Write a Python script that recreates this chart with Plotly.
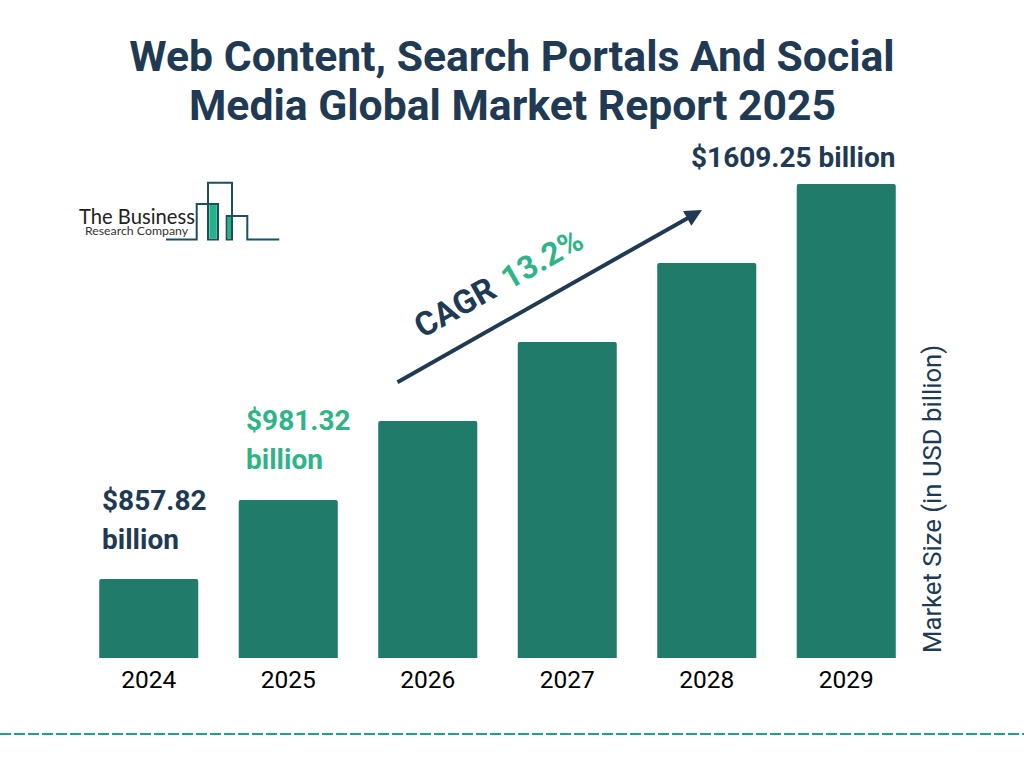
import plotly.graph_objects as go

# Data
years = ["2024", "2025", "2026", "2027", "2028", "2029"]
bar_heights = [79, 158, 237, 316, 395, 474]  # drawn heights (equal steps)
title_line1 = "Web Content, Search Portals And Social"
title_line2 = "Media Global Market Report 2025"
axis_title = "Market Size (in USD billion)"

NAVY = "#213A53"
TEAL = "#217B6B"
GREEN = "#2FB487"
FONT = "Roboto"

W, H = 1024, 768
L, R, T, B = 79, 108, 150, 110
PW, PH = W - L - R, H - T - B

def px(x):
    return (x - L) / PW

def py(y):
    return 1 - (y - T) / PH

fig = go.Figure(go.Bar(
    x=years, y=bar_heights, width=0.71,
    marker=dict(color=TEAL, line=dict(width=0), cornerradius=2),
    hoverinfo="x+y",
))

def note(text, x, y, size, color, bold=True, xanchor="center", angle=0, family=FONT):
    fig.add_annotation(
        text=f"<b>{text}</b>" if bold else text,
        xref="paper", yref="paper", x=px(x), y=py(y),
        xanchor=xanchor, yanchor="middle", showarrow=False, textangle=angle,
        font=dict(family=family, size=size, color=color),
    )

note(title_line2, 512, 105, 42.7, NAVY)
note("$857.82", 99.5, 500, 28, NAVY, xanchor="left")
note("billion", 99.5, 539, 28, NAVY, xanchor="left")
note("$981.32", 243.5, 420, 28, GREEN, xanchor="left")
note("billion", 243.5, 459, 28, GREEN, xanchor="left")
note("$1609.25 billion", 688.5, 157.5, 28, NAVY, xanchor="left")
note("CAGR", 454, 307, 33, NAVY, angle=-29.4)
note("13.2%", 542, 259, 32, GREEN, angle=-29.4)
note(axis_title, 932, 499, 25.7, NAVY, bold=False, angle=-90)
note("The Business", 136.5, 215.5, 20.2, "#222222", bold=False, family="Lato")
note("Research Company", 136.5, 230.5, 12.3, "#333333", bold=False, family="Lato")

# CAGR arrow
fig.add_annotation(
    xref="paper", yref="paper", axref="pixel", ayref="pixel",
    x=px(702), y=py(210), ax=396 - 702, ay=383 - 210, text="", showarrow=True,
    arrowhead=2, arrowsize=0.85, arrowwidth=4, arrowcolor=NAVY,
)

# Logo
logo_path = [(166, 239.5), (196.7, 239.5), (196.7, 204), (218, 204), (218, 239.5), (208, 239.5),
             (208, 182.7), (232, 182.7), (232, 239.5), (226.7, 239.5), (226.7, 216),
             (247.3, 216), (247.3, 239.5), (279.3, 239.5)]
path = "M " + " L ".join(f"{px(a):.5f},{py(b):.5f}" for a, b in logo_path)
shapes = [dict(type="path", xref="paper", yref="paper", path=path,
               line=dict(color="#1F4E5F", width=2))]
for x0, x1, y0, y1 in [(209.3, 216.8, 205, 238.5), (227.8, 231, 217, 238.5)]:
    shapes.append(dict(type="rect", xref="paper", yref="paper", x0=px(x0), x1=px(x1),
                       y0=py(y0), y1=py(y1), fillcolor="#22B487", line=dict(width=0)))
# Dashed rule
shapes.append(dict(type="line", xref="paper", yref="paper", x0=px(0), x1=px(1024),
                   y0=py(734), y1=py(734), line=dict(color="#1FA08C", width=2, dash="11px,3px")))

fig.update_layout(
    width=W, height=H, margin=dict(l=L, r=R, t=T, b=B),
    paper_bgcolor="white", plot_bgcolor="white", showlegend=False, shapes=shapes,
    title=dict(text=f"<b>{title_line1}</b>", x=0.5, xanchor="center", xref="container",
               y=1 - 56 / H, yanchor="middle",
               font=dict(family=FONT, size=42.7, color=NAVY)),
    xaxis=dict(showgrid=False, showline=False, zeroline=False, ticks="",
               tickfont=dict(family=FONT, size=24.5, color="#000000"), ticklabelstandoff=4,
               type="category"),
    yaxis=dict(visible=False, range=[0, PH], fixedrange=True),
)

fig.write_html("out.html", post_script="document.body.style.margin='0';", config=dict(displayModeBar=False))
